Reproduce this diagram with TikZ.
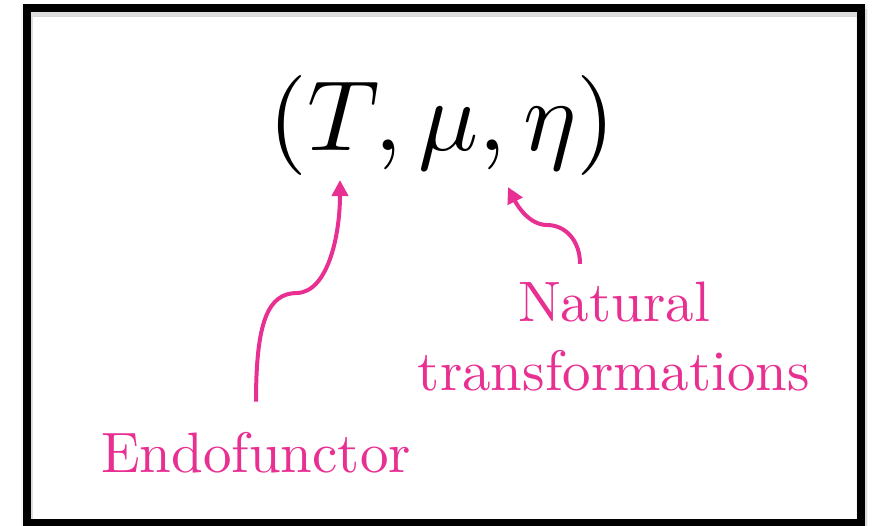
\documentclass[tikz,border=0pt]{standalone}
\usepackage{xcolor}
\usetikzlibrary{positioning,arrows.meta}
\definecolor{hotpink}{RGB}{232,48,146}

\begin{document}
\begin{tikzpicture}[
  x=1pt, y=-1pt,
  lbl/.style={text=hotpink, scale=5.7, inner sep=0pt, align=center},
  arr/.style={-{Triangle[length=16pt,width=16pt]}, line width=4pt, draw=hotpink},
  frame/.style={line width=8pt},
]
\useasboundingbox (0,0) rectangle (874,525);
% frame with soft shadow
\draw[frame, black!30, opacity=0.5] (29,13) rectangle (863,528);
\draw[frame, black!10, opacity=0.4, line width=12pt] (27,10) rectangle (862,526);
\draw[frame] (27,8) rectangle (861,523);

\node[scale=10, anchor=base, inner sep=0pt] (monad) at (442,150) {$(T,\mu,\eta)$};
\node[lbl, anchor=base] (endo) at (256,472) {Endofunctor};
\node[lbl, anchor=base] (nat) at (614,390) {Natural\\transformations};

\coordinate (tT) at (340,180);
\coordinate (tmu) at (508,187);

\draw[arr] ([yshift=29pt]endo.north) .. controls +(0,-80) and (268,293) .. (297,293)
  .. controls (328,292) and (340,235) .. (tT);
\draw[arr] ([xshift=-34pt,yshift=17pt]nat.north) .. controls (580,240) and (565,225) .. (547,225)
  .. controls (530,225) and (518,207) .. (tmu);
\end{tikzpicture}
\end{document}
